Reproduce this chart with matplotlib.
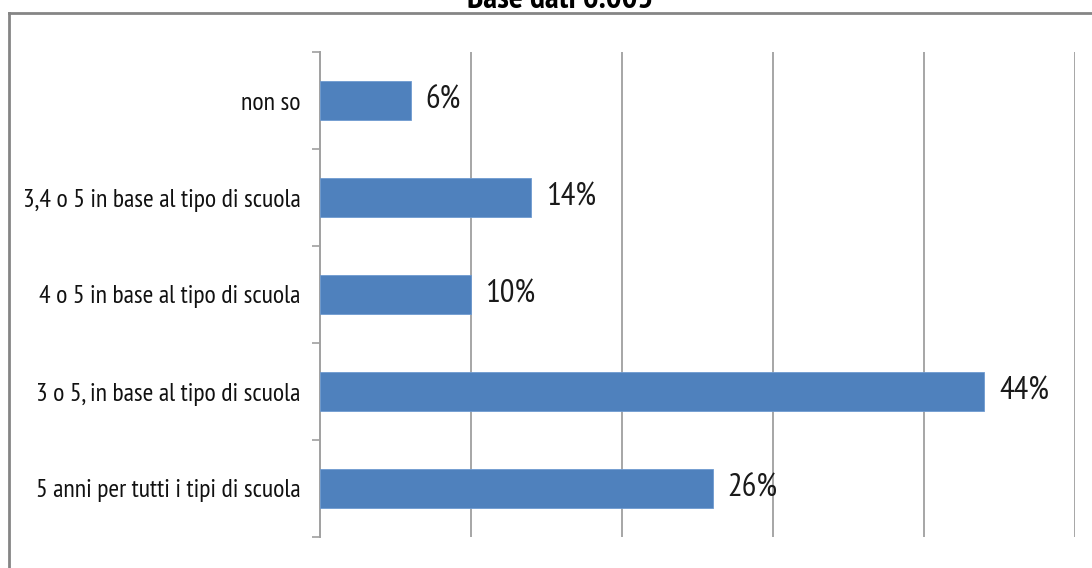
import matplotlib
matplotlib.use("Agg")
import matplotlib.pyplot as plt
from matplotlib.lines import Line2D
import numpy as np

# data, top to bottom as in the picture
categories = [
    "non so",
    "3,4 o 5 in base al tipo di scuola",
    "4 o 5 in base al tipo di scuola",
    "3 o 5, in base al tipo di scuola",
    "5 anni per tutti i tipi di scuola",
]
values = [6, 14, 10, 44, 26]
title = "Base dati 6.005"

FONT = ["PT Sans Narrow", "DejaVu Sans"]
BAR_COLOR = "#4F81BD"
GRID_COLOR = "#A6A6A6"

plt.rcParams["font.family"] = FONT

fig = plt.figure(figsize=(10.92, 5.68), dpi=100)
ax = fig.add_axes([320 / 1092, 1 - 537 / 568, (1075 - 320) / 1092, (537 - 52) / 568])

y = np.arange(len(categories))[::-1]
ax.barh(y, values, height=0.4, color=BAR_COLOR, edgecolor="#6F9BD0", linewidth=0.6, zorder=3)

for yi, v in zip(y, values):
    ax.text(v + 1.0, yi, f"{v}%", va="center", ha="left", fontsize=23.5, color="#1a1a1a")

ax.set_xlim(0, 50)
ax.set_ylim(-0.5, len(categories) - 0.5)
ax.set_xticks(np.arange(10, 51, 10))
ax.tick_params(axis="x", length=0, labelbottom=False)
ax.grid(True, axis="x", color=GRID_COLOR, linewidth=1.4, zorder=0)

ax.set_yticks(y)
ax.set_yticklabels(categories, fontsize=18.5, color="#111111")
ax.set_yticks(np.arange(-0.5, len(categories)), minor=True)
ax.tick_params(axis="y", which="major", length=0, pad=14)
ax.tick_params(axis="y", which="minor", length=6, width=1.2, color="#A0A0A0", direction="out")

for side in ["top", "right", "bottom"]:
    ax.spines[side].set_visible(False)
ax.spines["left"].set_color("#A0A0A0")
ax.spines["left"].set_linewidth(1.4)

# outer frame (only top and left edges fall inside the image)
fy = 1 - 13 / 568
fx = 9 / 1092
fig.add_artist(Line2D([fx, 1.01], [fy, fy], transform=fig.transFigure, color="#858585", linewidth=2))
fig.add_artist(Line2D([fx, fx], [-0.01, fy], transform=fig.transFigure, color="#858585", linewidth=2))

# title, partly cut off at the top edge
fig.text(560 / 1092, 1 - 8 / 568, title, ha="center", va="baseline", fontsize=24, fontweight="bold", color="black")

fig.savefig("out.png", dpi=100)
